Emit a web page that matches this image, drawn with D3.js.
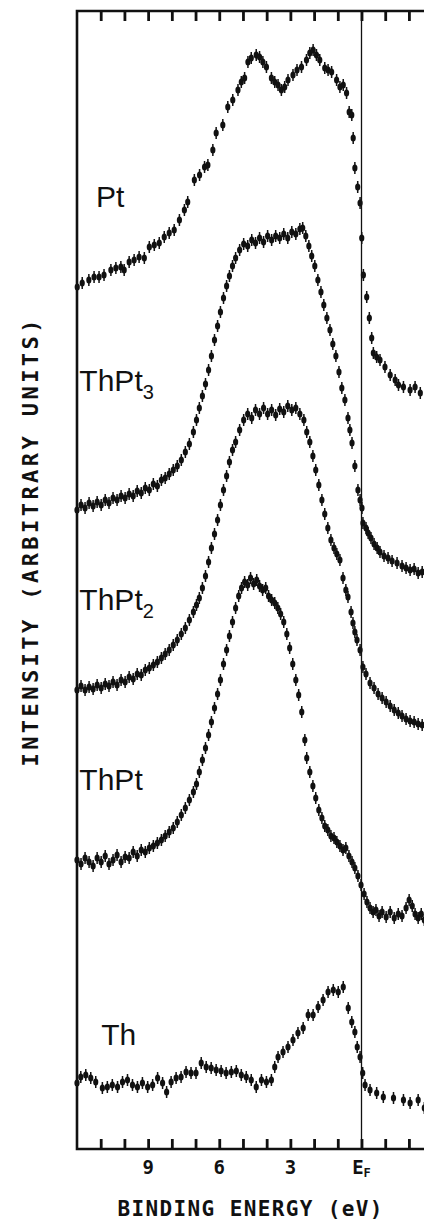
<!DOCTYPE html>
<html><head><meta charset="utf-8">
<script src="https://cdn.jsdelivr.net/npm/d3@7"></script>
<style>body{margin:0;background:#fff}svg{display:block}</style>
</head><body>
<svg id="c" width="424" height="1222"></svg>
<script>
// ---- data (binding energy in eV, intensity in arbitrary units) ----
const energyTicks = [11,10,9,8,7,6,5,4,3,2,1,0,-1,-2];
const tickLabels = ["9","6","3","E"];
const tickLabelEnergies = [9,6,3,0];
const seriesNames = ["Pt","ThPt","ThPt","ThPt","Th"];
const seriesSubs = ["","3","2","",""];

const ptEnergy = [11.99,11.78,11.5,11.28,11.07,10.86,10.57,10.36,10.15,10.01,9.8,9.59,9.38,9.16,8.95,8.74,8.53,8.32,8.11,7.9,7.68,7.47,7.33,7.05,6.83,6.62,6.48,6.27,6.13,5.85,5.64,5.43,5.21,5.07,4.93,4.79,4.65,4.44,4.3,4.16,4.01,3.8,3.66,3.52,3.38,3.24,3.1,2.89,2.72,2.53,2.32,2.18,2.04,1.9,1.76,1.55,1.41,1.26,1.05,0.91,0.77,0.63,0.52,0.41,0.35,0.28,0.16,0.06,-0.01,-0.08,-0.22,-0.33,-0.43,-0.5,-0.64,-0.78,-0.99,-1.21,-1.42,-1.56,-1.77,-2.05,-2.26,-2.48];
const ptIntensity = [862,866,869,872,872,874,879,881,882,879,887,889,892,891,902,904,906,912,916,919,929,939,947,969,974,982,984,999,1016,1024,1042,1049,1059,1067,1071,1087,1091,1094,1092,1087,1082,1071,1067,1064,1059,1062,1069,1074,1079,1082,1089,1096,1099,1094,1089,1081,1079,1077,1069,1062,1064,1056,1037,1034,1011,981,962,946,911,874,852,831,811,796,792,789,782,774,769,764,762,759,762,756];

const thpt3Energy = [12.0,11.83,11.66,11.49,11.32,11.15,10.98,10.81,10.65,10.48,10.31,10.14,9.97,9.8,9.63,9.46,9.29,9.12,8.95,8.78,8.61,8.44,8.28,8.11,7.94,7.77,7.6,7.43,7.26,7.09,6.96,6.84,6.71,6.58,6.45,6.33,6.2,6.07,5.95,5.82,5.69,5.57,5.44,5.31,5.14,4.97,4.8,4.63,4.47,4.3,4.13,3.96,3.79,3.62,3.45,3.28,3.11,2.94,2.77,2.6,2.48,2.35,2.22,2.1,1.97,1.84,1.71,1.59,1.46,1.33,1.21,1.08,0.95,0.83,0.7,0.57,0.49,0.4,0.28,0.15,0.06,-0.02,-0.06,-0.19,-0.28,-0.4,-0.53,-0.66,-0.78,-0.95,-1.12,-1.29,-1.5,-1.71,-1.88,-2.05,-2.22,-2.39,-2.56];
const thpt3Intensity = [639,644,641,646,643,647,644,649,646,651,649,653,651,655,653,658,656,661,659,665,663,669,671,675,679,683,689,697,705,717,729,741,753,765,779,793,809,823,837,851,863,873,883,891,899,905,903,909,906,911,907,913,909,913,911,915,911,917,915,920,921,913,903,893,883,869,857,844,831,819,805,793,777,761,749,731,719,706,683,659,649,641,626,621,616,611,605,601,597,593,591,588,586,583,581,579,580,576,577];

const thpt2Energy = [12.0,11.83,11.66,11.49,11.32,11.15,10.98,10.81,10.65,10.48,10.31,10.14,9.97,9.8,9.63,9.46,9.29,9.12,8.95,8.78,8.61,8.44,8.28,8.11,7.94,7.77,7.6,7.43,7.26,7.09,6.96,6.84,6.71,6.58,6.45,6.33,6.2,6.07,5.95,5.82,5.69,5.57,5.44,5.31,5.14,4.97,4.8,4.63,4.47,4.3,4.13,3.96,3.79,3.62,3.45,3.28,3.11,2.94,2.77,2.6,2.43,2.31,2.18,2.05,1.93,1.8,1.67,1.55,1.42,1.29,1.16,1.04,0.91,0.78,0.66,0.57,0.44,0.36,0.28,0.19,0.06,-0.06,-0.19,-0.36,-0.53,-0.7,-0.87,-1.04,-1.21,-1.38,-1.55,-1.71,-1.88,-2.05,-2.22,-2.39,-2.56];
const thpt2Intensity = [459,463,459,462,460,464,461,465,463,467,464,469,467,472,470,475,474,479,481,484,487,491,495,499,504,509,515,521,529,537,544,551,561,573,587,601,615,629,644,659,673,687,699,707,719,729,735,731,739,735,741,735,739,734,740,737,743,739,741,735,729,717,707,693,679,664,649,635,621,609,601,595,589,571,559,552,537,526,517,509,499,482,475,466,461,455,451,447,443,439,436,433,430,428,427,425,424];

const thptEnergy = [12.0,11.83,11.66,11.49,11.32,11.15,10.98,10.81,10.65,10.48,10.31,10.14,9.97,9.8,9.63,9.46,9.29,9.12,8.95,8.78,8.61,8.44,8.28,8.11,7.94,7.77,7.6,7.43,7.26,7.09,6.96,6.84,6.71,6.58,6.45,6.33,6.2,6.07,5.95,5.82,5.69,5.57,5.44,5.31,5.18,5.06,4.93,4.8,4.68,4.55,4.42,4.3,4.17,4.04,3.92,3.79,3.66,3.53,3.41,3.28,3.15,3.03,2.9,2.77,2.65,2.52,2.39,2.31,2.18,2.05,1.93,1.8,1.67,1.55,1.42,1.29,1.16,1.04,0.91,0.78,0.66,0.53,0.4,0.28,0.15,0.02,-0.11,-0.23,-0.36,-0.49,-0.61,-0.74,-0.87,-1.04,-1.21,-1.38,-1.55,-1.71,-1.88,-2.01,-2.14,-2.26,-2.39,-2.52,-2.65];
const thptIntensity = [289,285,291,287,283,291,287,293,285,289,294,287,292,291,297,293,299,297,301,303,306,309,313,317,321,327,334,341,349,357,365,377,389,401,414,427,441,455,469,485,499,513,527,541,553,561,567,564,571,565,569,563,559,561,553,549,546,541,535,527,515,501,485,469,454,437,409,391,377,363,351,339,331,323,319,313,311,307,303,299,301,293,287,281,273,264,255,247,241,237,239,233,237,232,237,231,235,233,241,249,243,235,231,235,229];

const thEnergy = [12.0,11.84,11.63,11.42,11.21,10.93,10.72,10.51,10.29,10.08,9.87,9.66,9.45,9.24,9.02,8.81,8.6,8.39,8.22,8.03,7.82,7.61,7.4,7.19,6.98,6.76,6.55,6.34,6.13,5.92,5.71,5.49,5.28,5.07,4.86,4.65,4.44,4.22,4.01,3.8,3.66,3.52,3.31,3.1,2.89,2.68,2.46,2.25,2.04,1.83,1.62,1.41,1.19,0.98,0.77,0.56,0.41,0.28,0.18,0.06,-0.05,-0.15,-0.36,-0.64,-0.92,-1.35,-1.77,-2.05,-2.39,-2.65];
const thIntensity = [66,72,74,71,67,61,62,64,62,67,69,64,62,66,62,64,71,66,57,67,71,72,77,76,76,86,82,81,79,78,76,77,78,74,72,69,62,69,67,69,82,92,97,102,109,116,121,134,134,142,149,157,159,157,162,141,127,117,102,92,76,64,59,56,52,51,49,46,49,41];

const labelAnchors = [[11.2,942],[11.9,758],[11.9,539],[11.9,359],[10.98,104]];

// ---- drawing ----
const svg = d3.select("#c");
const x = d3.scaleLinear().domain([12,0]).range([77,361.5]);
const y = d3.scaleLinear().domain([0,1138]).range([1149,11]);
const ink = "#111";

const xr = 460;
svg.append("path").attr("d",`M${xr},${y(1138)}H${x(12)}V${y(0)}H${xr}`)
  .attr("fill","none").attr("stroke",ink).attr("stroke-width",2.6);
svg.append("line").attr("x1",x(0)).attr("x2",x(0)).attr("y1",y(1138)).attr("y2",y(0))
  .attr("stroke",ink).attr("stroke-width",1.3);

const topAxis = d3.axisBottom(x).tickValues(energyTicks).tickSize(10).tickFormat("");
const botAxis = d3.axisTop(x).tickValues(energyTicks).tickSize(10).tickFormat("");
const ga = svg.append("g").attr("transform",`translate(0,${y(1138)})`).call(topAxis);
const gb = svg.append("g").attr("transform",`translate(0,${y(0)})`).call(botAxis);
[ga,gb].forEach(g=>{g.select(".domain").remove();g.selectAll("line").attr("stroke",ink).attr("stroke-width",2.8);});

const tl = svg.append("g").attr("font-family","DejaVu Sans Mono, monospace").attr("font-weight","bold")
  .attr("font-size",19).attr("fill",ink);
tickLabelEnergies.forEach((e,i)=>{
  const t = tl.append("text").attr("x",x(e)).attr("y",1174).attr("text-anchor","middle").text(tickLabels[i]);
  if(e===0){ t.append("tspan").attr("font-size",12).attr("dy",3).text("F"); }
});

svg.append("text").attr("x",250).attr("y",1216).attr("text-anchor","middle")
  .attr("font-family","DejaVu Sans Mono, monospace").attr("font-weight","bold").attr("font-size",21)
  .attr("textLength",265).attr("lengthAdjust","spacing").attr("fill",ink).text("BINDING ENERGY (eV)");
svg.append("text").attr("transform","translate(38,543) rotate(-90)").attr("text-anchor","middle")
  .attr("font-family","DejaVu Sans Mono, monospace").attr("font-weight","bold").attr("font-size",22)
  .attr("textLength",447).attr("lengthAdjust","spacing").attr("fill",ink).text("INTENSITY (ARBITRARY UNITS)");

const series = [
  [ptEnergy,ptIntensity],[thpt3Energy,thpt3Intensity],[thpt2Energy,thpt2Intensity],
  [thptEnergy,thptIntensity],[thEnergy,thIntensity]
];
series.forEach(([E,I])=>{
  const pts = E.map((e,i)=>({e,v:I[i]}));
  const g = svg.append("g");
  g.selectAll("line").data(pts).join("line")
    .attr("x1",d=>x(d.e)).attr("x2",d=>x(d.e))
    .attr("y1",d=>y(d.v)-6).attr("y2",d=>y(d.v)+6)
    .attr("stroke",ink).attr("stroke-width",1.5);
  g.selectAll("ellipse").data(pts).join("ellipse")
    .attr("cx",d=>x(d.e)).attr("cy",d=>y(d.v)).attr("rx",2.6).attr("ry",3.5).attr("fill",ink);
});

const lg = svg.append("g").attr("font-family","Liberation Sans, Arial, sans-serif").attr("font-size",30).attr("fill",ink);
seriesNames.forEach((n,i)=>{
  const t = lg.append("text").attr("x",x(labelAnchors[i][0])).attr("y",y(labelAnchors[i][1])).text(n);
  if(seriesSubs[i]) t.append("tspan").attr("font-size",20).attr("dy",8).text(seriesSubs[i]);
});
</script>
</body></html>
